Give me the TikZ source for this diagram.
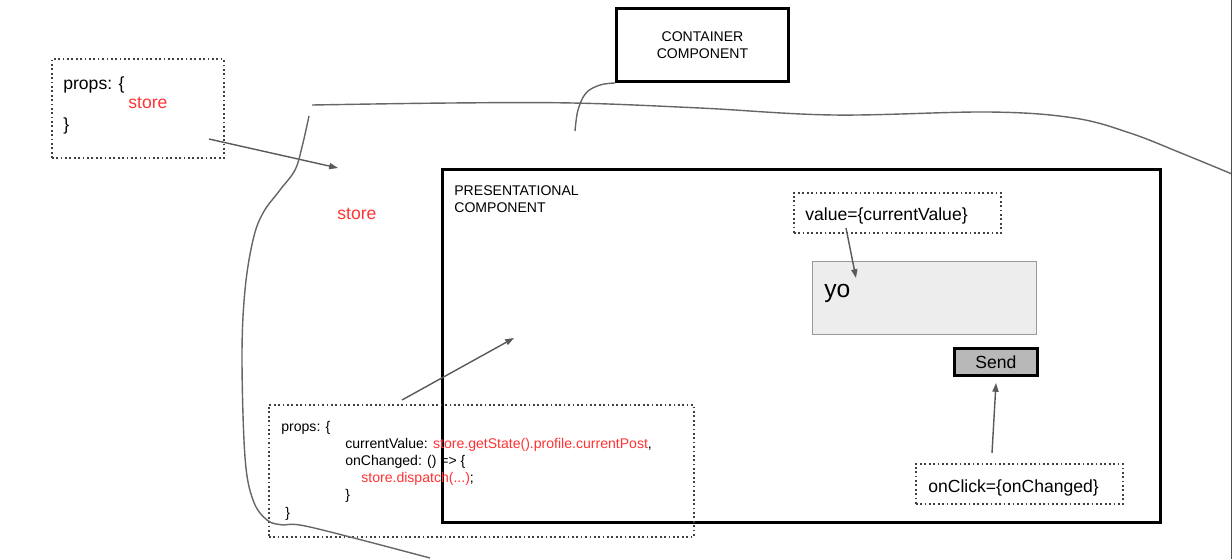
\documentclass[tikz,border=0pt]{standalone}
\usepackage{fontspec}
\setmainfont{Liberation Sans}
\usetikzlibrary{arrows, arrows.meta}
\definecolor{storered}{HTML}{FF3333}

\begin{document}
\begin{tikzpicture}[x=0.02cm, y=-0.02cm,
  dotbox/.style={draw=black!75, line width=1pt, dash pattern=on 1pt off 1.5pt, anchor=north west, inner sep=0pt},
  compbox/.style={draw=black, line width=1.7pt, anchor=north west, inner sep=0pt},
  txt/.style={anchor=base west, inner sep=0pt, font=\fontsize{10}{12}\selectfont},
  smalltxt/.style={anchor=base west, inner sep=0pt, font=\fontsize{8}{9.6}\selectfont},
  link/.style={draw=black!65, line width=0.8pt, -{Triangle[length=5pt,width=3.5pt]}},
  scribble/.style={draw=black!60, line width=0.8pt}]
\useasboundingbox (0,0) rectangle (1232,559);

%Boxes
\node[dotbox, minimum width=3.44cm, minimum height=1.98cm] (propsA) at (51,58){};
\node[compbox, minimum width=3.44cm, minimum height=1.46cm, align=center, font=\fontsize{8}{9.6}\selectfont] (cont) at (615,7){CONTAINER\\COMPONENT};
\node[compbox, minimum width=14.36cm, minimum height=7.06cm] (pres) at (441,168){};
\node[dotbox, minimum width=4.14cm, minimum height=0.8cm] (valbox) at (793,192){};
\node[anchor=north west, inner sep=0pt, draw=black!40, fill=black!7, line width=0.8pt, minimum width=4.48cm, minimum height=1.46cm] (yobox) at (812,261){};
\node[compbox, fill=black!28, minimum width=1.66cm, minimum height=0.54cm, font=\fontsize{10}{12}\selectfont] (send) at (953,347){Send};
\node[dotbox, minimum width=4.14cm, minimum height=0.8cm] (clickbox) at (915,463){};
\node[dotbox, minimum width=8.5cm, minimum height=2.64cm] (propsB) at (268,404){};

%Texts of the first props
\node[txt] (pa1) at (63,89){props: \{};
\node[txt, text=storered] (pa2) at (128,108){store};
\node[txt] (pa3) at (63,130){\}};
\node[txt, text=storered] (store) at (337,219){store};

%Texts of the presentational component
\node[smalltxt] (pres1) at (454,195){PRESENTATIONAL};
\node[smalltxt] (pres2) at (454,212){COMPONENT};
\node[txt] (val) at (805,220){value=\{currentValue\}};
\node[anchor=base west, inner sep=0pt, font=\fontsize{14}{16}\selectfont] (yo) at (824,297){yo};
\node[txt] (click) at (928,492){onClick=\{onChanged\}};

%Texts of the second props
\node[smalltxt] (pb1) at (281,431){props: \{};
\node[smalltxt] (pb2) at (345,448){currentValue: \textcolor{storered}{store.getState().profile.currentPost},};
\node[smalltxt] (pb3) at (345,465){onChanged: () => \{};
\node[smalltxt] (pb4) at (361,482){\textcolor{storered}{store.dispatch(...)};};
\node[smalltxt] (pb5) at (345,499){\}};
\node[smalltxt] (pb6) at (285,517){\}};

%Arrows
\coordinate (a1) at (209,139); \coordinate (b1) at (338,168);
\coordinate (a2) at (402,400); \coordinate (b2) at (514,338);
\coordinate (a3) at (846,228); \coordinate (b3) at (856,278);
\coordinate (a4) at (992,453); \coordinate (b4) at (996,383);
\draw[link] (a1)--(b1);
\draw[link] (a2)--(b2);
\draw[link] (a3)--(b3);
\draw[link] (a4)--(b4);

%Hand drawn outline of the container
\draw[scribble] plot[smooth, tension=0.6] coordinates {(312,105) (450,103) (573,103) (700,108) (834,115) (989,112) (1074,118) (1130,133) (1181,153) (1232,174)};
\draw[scribble] plot[smooth, tension=0.6] coordinates {(575,131) (578,110) (586,93) (600,85) (cont.south west)};
\draw[scribble] plot[smooth, tension=0.6] coordinates {(309,116) (302,147) (295,170) (280,190) (263,213) (253,240) (245,290) (242,357) (245,457) (253,500) (267,520) (283,525) (310,527) (430,558)};

%Edge of the slide
\draw[black!70, line width=0.5pt] (1231,0)--(1231,559);

\end{tikzpicture}
\end{document}
